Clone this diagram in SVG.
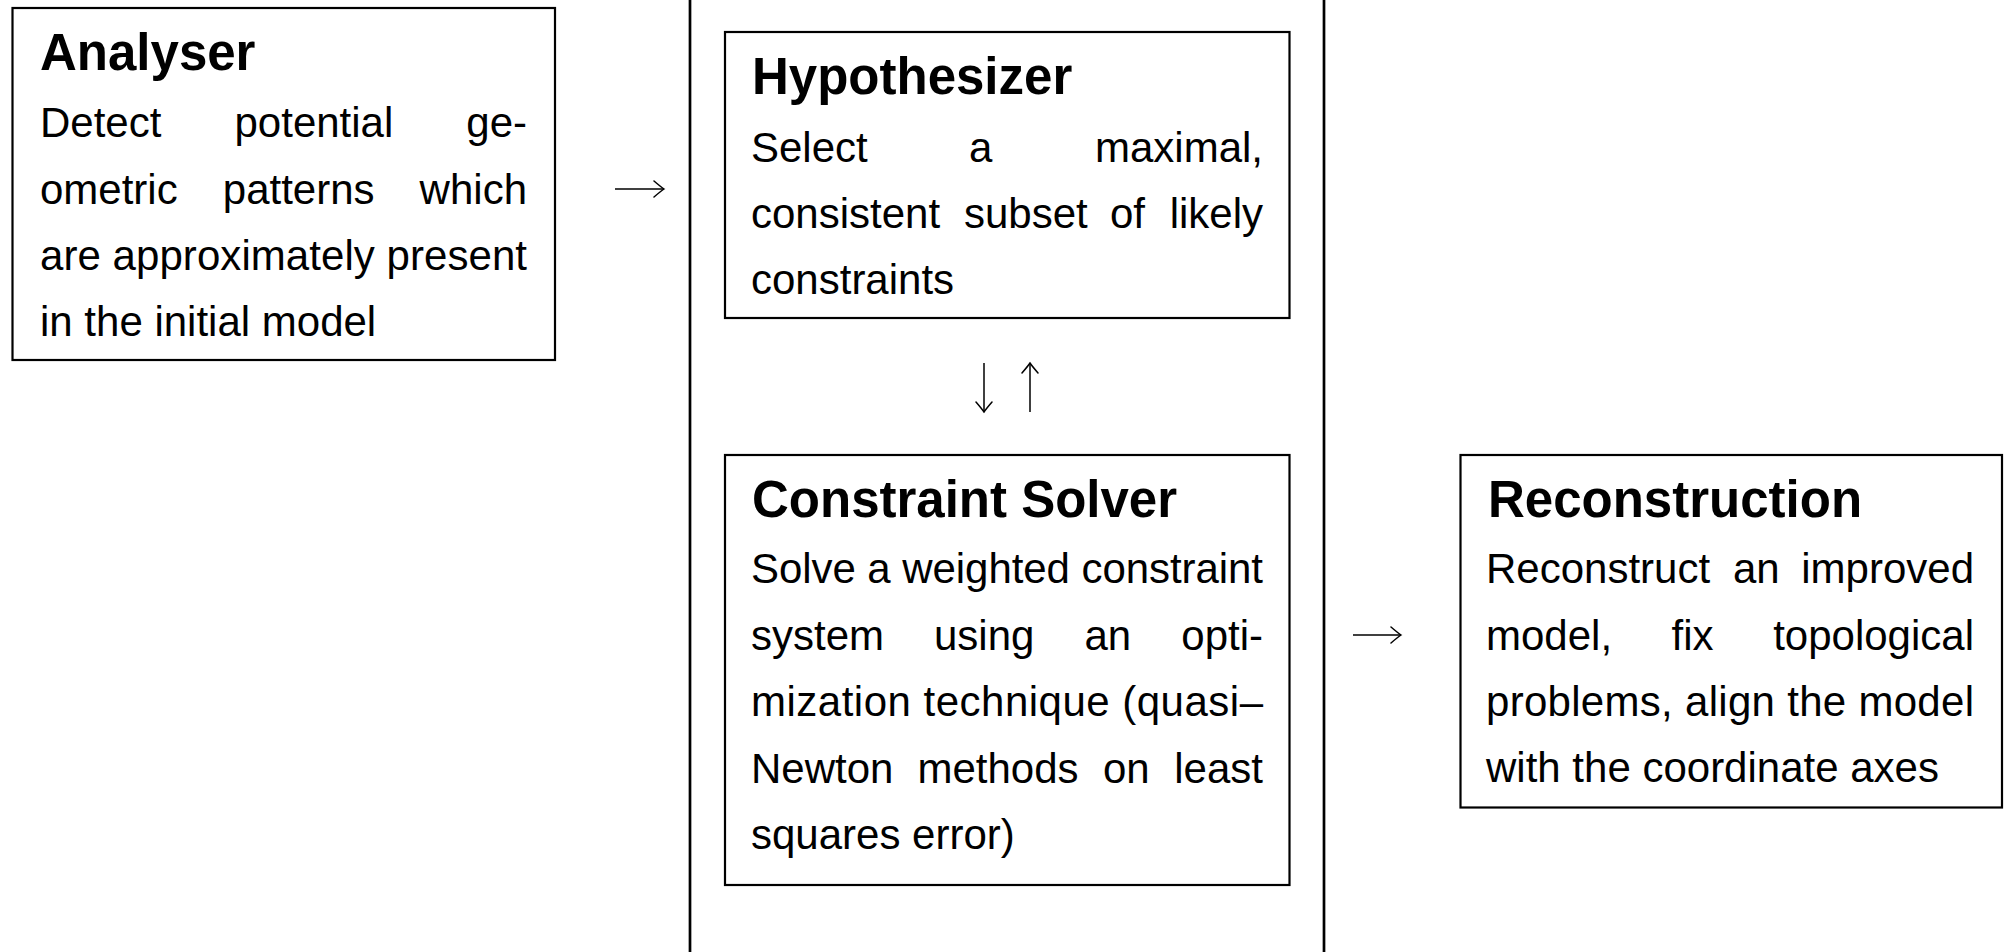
<svg xmlns="http://www.w3.org/2000/svg" width="2004" height="952" viewBox="0 0 2004 952">
  <style>
    .box { fill: #ffffff; stroke: #000000; stroke-width: 2.2; }
    .rule { stroke: #000000; stroke-width: 2.7; }
    .title { font-family: "Liberation Sans", Arial, sans-serif; font-weight: bold; font-size: 51px; fill: #000000; }
    .body { font-family: "Liberation Sans", Arial, sans-serif; font-size: 42px; fill: #000000; }
    .end { text-anchor: end; }
    .arrow { fill: none; stroke: #000000; stroke-width: 1.5; marker-end: url(#tip); }
  </style>
  <defs>
    <!-- thin curved arrowhead, in the style of a math arrow -->
    <marker id="tip" viewBox="-12 -9 14 18" refX="0" refY="0" markerWidth="14" markerHeight="18" markerUnits="userSpaceOnUse" orient="auto">
      <path d="M -10 -8 Q -3 -2 0 0 Q -3 2 -10 8" fill="none" stroke="#000000" stroke-width="1.5" stroke-linecap="round"/>
    </marker>
  </defs>

  <rect width="2004" height="952" fill="#ffffff"/>

  <!-- frame around the hypothesize / solve loop -->
  <g id="loop-frame">
    <line class="rule" x1="690" y1="0" x2="690" y2="952"/>
    <line class="rule" x1="1324" y1="0" x2="1324" y2="952"/>
  </g>

  <!-- justified lines: first word at the left edge, last word end-anchored, inner words spaced evenly -->
  <g id="analyser">
    <rect class="box" x="12.5" y="8" width="542.5" height="352"/>
    <text class="title" x="40" y="70">Analyser</text>
    <text class="body" y="137"><tspan x="40">Detect</tspan><tspan x="234.5">potential</tspan><tspan class="end" x="527">ge-</tspan></text>
    <text class="body" y="203.5"><tspan x="40">ometric</tspan><tspan x="222.8">patterns</tspan><tspan class="end" x="527">which</tspan></text>
    <text class="body" x="40" y="270" textLength="487" lengthAdjust="spacing">are approximately present</text>
    <text class="body" x="40" y="336">in the initial model</text>
  </g>

  <g id="hypothesizer">
    <rect class="box" x="725" y="32" width="564.5" height="286"/>
    <text class="title" x="752" y="94">Hypothesizer</text>
    <text class="body" y="161.5"><tspan x="751">Select</tspan><tspan x="969">a</tspan><tspan class="end" x="1263">maximal,</tspan></text>
    <text class="body" y="228"><tspan x="751">consistent</tspan><tspan x="964">subset</tspan><tspan x="1110">of</tspan><tspan class="end" x="1263">likely</tspan></text>
    <text class="body" x="751" y="294">constraints</text>
  </g>

  <g id="constraint-solver">
    <rect class="box" x="725" y="455" width="564.5" height="430"/>
    <text class="title" x="752" y="517">Constraint Solver</text>
    <text class="body" x="751" y="583" textLength="512" lengthAdjust="spacing">Solve a weighted constraint</text>
    <text class="body" y="649.5"><tspan x="751">system</tspan><tspan x="934">using</tspan><tspan x="1084.5">an</tspan><tspan class="end" x="1263">opti-</tspan></text>
    <text class="body" x="751" y="716" textLength="512" lengthAdjust="spacing">mization technique (quasi–</text>
    <text class="body" y="782.5"><tspan x="751">Newton</tspan><tspan x="917.5">methods</tspan><tspan x="1103">on</tspan><tspan class="end" x="1263">least</tspan></text>
    <text class="body" x="751" y="849">squares error)</text>
  </g>

  <g id="reconstruction">
    <rect class="box" x="1460.5" y="455" width="541.5" height="352.5"/>
    <text class="title" x="1488" y="517">Reconstruction</text>
    <text class="body" y="583"><tspan x="1486">Reconstruct</tspan><tspan x="1733">an</tspan><tspan class="end" x="1974">improved</tspan></text>
    <text class="body" y="649.5"><tspan x="1486">model,</tspan><tspan x="1671.5">fix</tspan><tspan class="end" x="1974">topological</tspan></text>
    <text class="body" x="1486" y="716" textLength="488" lengthAdjust="spacing">problems, align the model</text>
    <text class="body" x="1486" y="782">with the coordinate axes</text>
  </g>

  <g id="connectors">
    <path class="arrow" d="M 615 189 H 664"/>
    <path class="arrow" d="M 984 363 V 412"/>
    <path class="arrow" d="M 1030 412 V 363"/>
    <path class="arrow" d="M 1353 635 H 1401"/>
  </g>
</svg>
